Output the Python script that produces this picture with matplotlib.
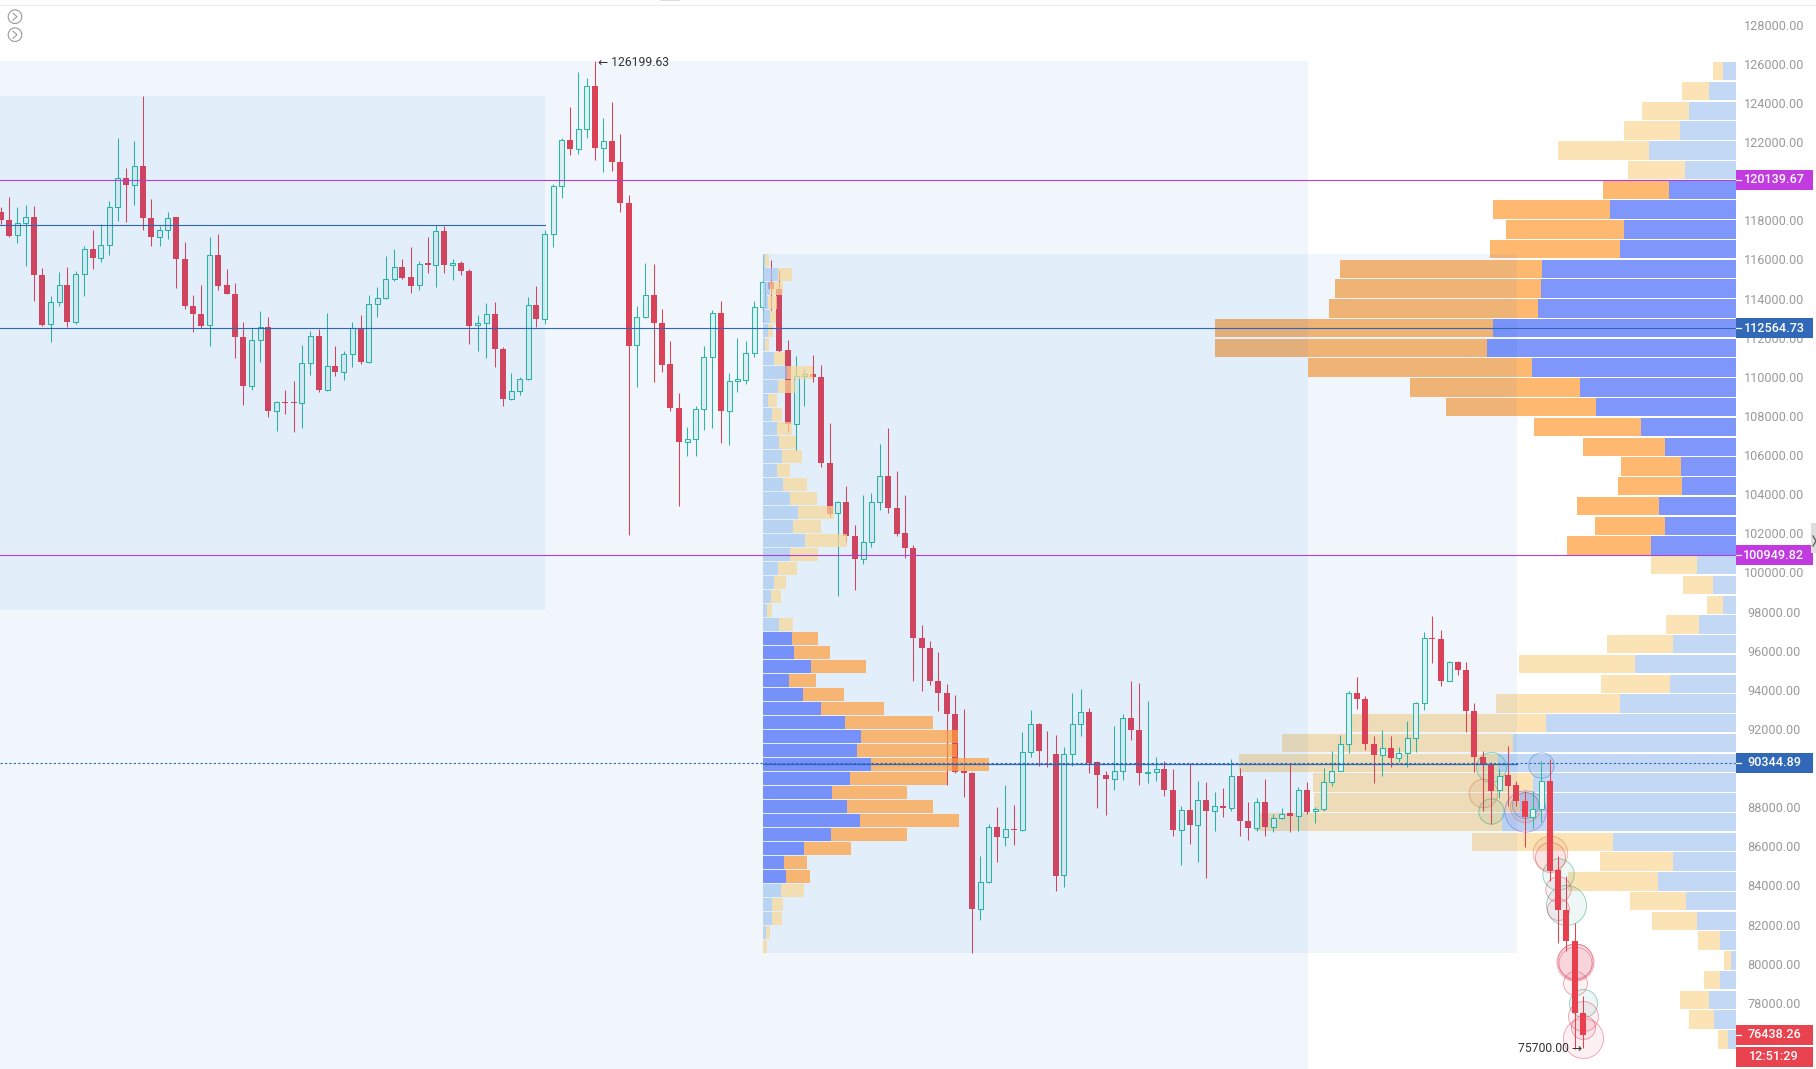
# -*- coding: utf-8 -*-
import numpy as np
import matplotlib
matplotlib.use("Agg")
import matplotlib.pyplot as plt
from matplotlib.patches import Rectangle, Circle

plt.rcParams['font.family'] = ['Roboto', 'DejaVu Sans']

# candles, oldest first
opens = [118483,118091,117324,117938,118261,115279,112774,113882,114785,112860,115331,116609,116148,116813,118772,120238,119880,120851,118193,117205,117580,118227,116097,113695,113286,112723,116302,114768,114308,112127,109588,111957,112621,108310,108787,108787,108736,110764,112161,109417,110627,110304,111241,112570,110815,113797,114087,115058,115705,115194,114768,115876,115791,117545,115808,115910,115501,112723,112808,113286,111496,108924,109332,109963,113746,113030,117375,119829,122180,121703,122726,124941,121754,122146,121056,118960,111701,113115,114257,112825,110730,108480,106725,106896,108429,111104,113337,108310,109844,109929,111275,113627,114922,114564,111446,107663,110117,110219,110083,105669,103114,103676,101938,100745,101614,103676,105005,103369,102091,101324,96723,96212,94525,93911,92838,89907,89839,82869,84233,87061,86533,86959,86908,90878,92327,91406,90776,84608,90776,92327,92957,90384,89720,89498,89924,92633,92020,89805,89856,90026,88953,86925,87930,87164,88442,87897,88135,88033,89669,87369,86994,88340,87045,87522,87778,87624,88953,87863,87965,89362,89925,91305,93912,93605,91288,90743,91100,90589,90845,91612,93401,96724,96672,94525,95480,95088,92975,90657,90282,88953,89720,89209,88391,87556,87965,89414,84864,82819,81234,77555]
highs = [118738,119250,118738,118875,118823,115637,114223,115416,115671,115467,116779,117580,117886,119045,122283,120749,122146,124447,119164,117801,118517,118261,116949,114274,114785,117239,117375,115586,114853,112860,112570,113422,113115,108855,109417,109844,111718,112434,112519,113320,111650,111411,112860,113252,114257,114649,116268,116609,116097,116694,115978,117239,117835,117801,116097,116012,115586,113235,113831,113882,111616,110253,110048,114172,114734,117597,119931,122283,123850,125640,125350,126199.63,123305,124140,122487,119369,113677,115910,115842,113541,111922,109230,107526,108583,111667,113490,113967,110253,112059,111888,113933,116353,116047,115535,111974,111156,110492,111207,110696,107731,103744,104511,102500,104050,104119,106641,107458,105277,104050,101494,97387,96587,95990,94371,93792,93093,89856,85579,87215,88101,89191,88203,91901,93042,92361,91952,91781,91134,93911,94116,93145,90452,89941,92241,92838,94542,94440,93519,90623,90418,90026,88118,90316,89430,89345,88834,89056,90538,90078,88357,88544,89516,87727,88033,90334,89090,89345,88067,90078,90930,91765,93997,94747,93776,91731,92021,91731,91169,92463,93469,97013,97865,97133,95565,95531,95480,93384,90930,90368,90027,91185,89430,88919,88919,90453,90538,85596,84574,82154,78414]
lows = [117886,117205,116898,115756,113933,112689,111871,113712,112604,112774,114223,115586,115961,116319,118023,117972,118875,117580,116779,116762,117120,114598,113541,112348,112553,111633,114512,114291,111020,108634,109400,110815,108037,107321,108174,107236,107441,110167,109281,109366,110133,109929,110560,110730,110764,113115,114035,114990,115075,114342,114530,115381,114683,115398,115041,115279,111752,111411,111020,110594,108583,108906,109145,109929,112604,112774,116694,119215,121414,121465,122266,121158,120528,120613,118483,101988,109537,113081,109827,110338,108310,103488,106044,106044,107373,107441,106674,106606,109281,109707,111104,112860,113423,111361,107271,106266,108600,109793,105482,102892,98887,101614,99194,100506,101392,103284,103130,101921,100796,94508,93997,94337,92974,89225,89822,88578,80603,82324,84182,85255,86073,86158,86874,90623,90162,90111,83806,84011,90162,91730,89839,88016,87692,88970,89481,91526,89225,89293,89430,88663,86584,85119,86192,85289,84438,86840,87590,87897,86585,86397,86874,86619,86789,87471,86789,86840,87727,87249,87863,89175,89908,90828,93094,91015,89294,89686,90112,90368,90146,90913,93060,95428,94253,94508,94849,91901,89856,87897,87215,88544,88118,88118,86056,87011,87301,84319,81115,80740,75700,75740]
closes = [118091,117290,117920,118227,115279,112740,113882,114768,112860,115331,116609,116131,116813,118738,120238,119863,120851,118176,117205,117580,118176,116080,113677,113269,112689,116302,114734,114291,112093,109588,111957,112604,108310,108770,108719,108719,110764,112161,109417,110610,110304,111241,112553,110815,113797,114087,115058,115671,115143,114734,115842,115791,117528,115791,115910,115467,112689,112825,113286,111480,108924,109332,109963,113746,113013,117375,119812,122180,121703,122726,124941,121754,122129,121039,118943,111667,113115,114257,112808,110696,108463,106725,106896,108429,111104,113337,108310,109844,109963,111275,113627,114904,114547,111412,107663,110100,110202,110048,105652,103062,103659,101921,100745,101614,103659,105005,103352,102057,101307,96706,96195,94508,93894,92821,89856,89805,82869,84233,87061,86533,86959,86891,90878,92327,90963,91406,84573,90776,92327,92923,90350,89703,89498,89924,92633,92003,89805,89856,90009,88936,86925,87930,87147,88441,87863,88118,88016,89669,87352,86994,88340,87045,87505,87743,87607,88953,87846,87982,89345,89908,91288,93912,93588,91288,90725,91083,90572,90828,91612,93384,96724,96655,94508,95480,95088,92975,90623,90248,88919,89686,89175,88374,87556,87965,89414,84830,82819,81217,77553,76438.26]

# volume profile of the whole range, top row first
right_buy = [38,80,141,168,261,153,201,378,336,348,582,586,594,729,747,612,468,420,285,213,165,162,231,213,255,116,68,40,111,189,303,198,348,570,668,714,608,648,701,368,190,234,150,117,48,16,48,80,66,24]
right_sell = [30,82,141,168,273,170,198,351,354,390,606,617,626,834,816,673,510,450,321,245,179,192,246,210,252,138,91,47,99,197,348,207,372,601,694,778,660,618,742,425,218,269,168,135,66,20,48,88,75,29]
right_hi = 126199.63
right_lo = 75700.0
right_vah = 120139.67
right_val = 100949.82

# volume profile of the second range, top row first
left_buy = [6,47,22,17,22,16,7,34,74,45,17,27,42,49,57,43,60,82,106,92,127,82,45,34,24,12,49,87,93,144,79,120,175,246,294,282,324,263,207,252,291,204,125,63,69,55,28,27,10,2]
left_sell = [14,42,40,25,18,14,13,33,78,52,25,30,45,51,62,40,72,80,108,82,125,85,57,36,32,15,41,78,108,165,80,123,188,264,293,300,354,291,225,258,297,228,139,69,73,69,32,30,12,10]
left_hi = 116370.0
left_lo = 80600.0
left_vah = 96900.0
left_val = 84200.0

# trade bubbles
bub_idx = [178,177,178,182,182,182,184,185,185,186,186,187,186,188,188,188,188,189,189,189,189]
bub_price = [90110,88800,87860,87860,88070,88180,90230,85735,85545,84660,83895,83090,82870,80175,80230,80090,79100,78080,77415,76850,76260]
bub_size = [15,14.3,12.7,20.7,15,13,12.7,17.3,15,15.7,12.7,20,11,18.5,17.5,16.5,12,14,15,12,20]
bub_kind = ['g','o','g','p','o','b','b','o','r','g','r','g','r','r','r','r','r','g','r','r','r']

# price levels
level_purple = [120139.67, 100949.82]
level_blue = 112564.73
level_last_poc = 90344.89
level_old_poc = 117837
poc_solid = 90290
old_box_hi = 124450
old_box_lo = 98170
last_price = 76438.26
countdown = "12:51:29"
tick_prices = [p for p in range(78000, 128001, 2000) if p != 120000]

W, H = 1816, 1069
bottom = 74692
top = 129340
step = 8.374
vp_right = 1736
vp_left = 762.7
x_big = 1308
x_old = 545
x_mid = 1517

fig = plt.figure(figsize=(W / 100, H / 100), dpi=100, facecolor='white')
ax = fig.add_axes([0, 0, 1, 1])
ax.set_xlim(0, W)
ax.set_ylim(bottom, top)
ax.axis('off')

opens = np.array(opens)
closes = np.array(closes)
highs = np.array(highs)
lows = np.array(lows)
x = np.arange(len(opens)) * step + 0.5
up = closes > opens
red = '#e8404f'
green = '#2dbba0'

# right profile goes under the candles
edges = np.linspace(right_hi, right_lo, len(right_buy) + 1)
mid = (edges[:-1] + edges[1:]) / 2
h = (edges[0] - edges[1]) * 0.93
rb = np.array(right_buy) / 3
rs = np.array(right_sell) / 3
inside = (mid < right_vah) & (mid > right_val)
ax.barh(mid, rb, height=h, left=vp_right - rb, color=np.where(inside, '#7f96fb', '#c2d8f5'), zorder=1)
ax.barh(mid, rs, height=h, left=vp_right - rb - rs, color=np.where(inside, '#ffb870', '#fbe3b5'), zorder=1)

# bubbles
kinds = {'g': '#1f9e80', 'o': '#e0703a', 'p': '#7a4fd0', 'b': '#3a78c8', 'r': '#e04060'}
for i in range(len(bub_idx)):
    c = kinds[bub_kind[i]]
    d = 2 * bub_size[i] * 0.72
    ax.scatter(x[bub_idx[i]], bub_price[i], s=d * d, facecolor=matplotlib.colors.to_rgba(c, 0.08),
               edgecolor=matplotlib.colors.to_rgba(c, 0.5), linewidth=0.6, zorder=1.5)

# candles
ax.vlines(x[up], lows[up], highs[up], color=green, linewidth=0.75, zorder=2)
ax.vlines(x[~up], lows[~up], highs[~up], color=red, linewidth=0.75, zorder=2)
ax.bar(x[up], closes[up] - opens[up], bottom=opens[up], width=5, facecolor='#eaf8f5', edgecolor=green,
       linewidth=0.75, zorder=2)
ax.bar(x[~up], opens[~up] - closes[~up], bottom=closes[~up], width=6, color=red, linewidth=0, zorder=2)

# range boxes lie over the candles
box_c = '#1070d8'
ax.add_patch(Rectangle((0, bottom), x_big, right_hi - bottom, facecolor=box_c, alpha=0.058, linewidth=0, zorder=3))
ax.add_patch(Rectangle((0, old_box_lo), x_old, old_box_hi - old_box_lo, facecolor=box_c, alpha=0.058, linewidth=0, zorder=3))
ax.add_patch(Rectangle((vp_left, left_lo), x_mid - vp_left, left_hi - left_lo, facecolor=box_c, alpha=0.058, linewidth=0, zorder=3))

# left profile lies over everything
edges = np.linspace(left_hi, left_lo, len(left_buy) + 1)
mid = (edges[:-1] + edges[1:]) / 2
h = (edges[0] - edges[1]) * 0.92
lb = np.array(left_buy) / 3
ls = np.array(left_sell) / 3
inside = (mid < left_vah) & (mid > left_val)
ax.barh(mid, lb, height=h, left=vp_left, color=np.where(inside, '#4d6df9', '#aac9f1'), alpha=0.72, linewidth=0, zorder=4)
ax.barh(mid, ls, height=h, left=vp_left + lb, color=np.where(inside, '#ff9f40', '#f9d898'), alpha=0.72, linewidth=0, zorder=4)

# levels
purple = '#b23fd8'
blue = '#2f66b5'
for p in level_purple:
    ax.plot([0, vp_right], [p, p], color=purple, linewidth=0.8, zorder=5)
ax.plot([0, vp_right], [level_blue, level_blue], color=blue, linewidth=0.8, zorder=5)
ax.plot([0, x_old], [level_old_poc, level_old_poc], color=blue, linewidth=0.8, zorder=5)
ax.plot([0, vp_right], [level_last_poc, level_last_poc], color=blue, linewidth=0.8, linestyle=(0, (2, 2)), zorder=5)
ax.plot([vp_left, x_mid], [poc_solid, poc_solid], color=blue, linewidth=0.9, zorder=5)

# high and low notes
ax.text(598, right_hi - 30, "← 126199.63", fontsize=8.7, color='#333333', va='center', ha='left', zorder=7)
ax.text(1582, right_lo + 60, "75700.00 →", fontsize=8.7, color='#333333', va='center', ha='right', zorder=7)

# price scale
for p in tick_prices:
    ax.text(1774, p, f"{p:.2f}", fontsize=9.1, color='#9a9a9a', ha='center', va='center', zorder=6)


def price_tag(p, label, color, dy=0, tick=True):
    hh = 511
    ax.add_patch(Rectangle((vp_right, p - hh + dy), 77, hh * 2, facecolor=color, linewidth=0, zorder=8))
    if tick:
        ax.plot([vp_right, vp_right + 5], [p, p], color='white', linewidth=0.9, zorder=9)
    ax.text(1774, p + dy, label, fontsize=9.1, color='white', fontweight='medium', ha='center', va='center', zorder=9)


price_tag(level_purple[0], "120139.67", '#c23be0')
price_tag(level_purple[1], "100949.82", '#c23be0')
price_tag(level_blue, "112564.73", '#3168b8')
price_tag(level_last_poc, "90344.89", '#3168b8')
price_tag(last_price, "76438.26", '#e8434f')
price_tag(last_price, countdown, '#e8434f', dy=-1110, tick=False)

# page furniture in pixel coordinates
ov = fig.add_axes([0, 0, 1, 1])
ov.set_xlim(0, W)
ov.set_ylim(H, 0)
ov.axis('off')
ov.patch.set_alpha(0)
ov.plot([0, W], [5, 5], color='#eeeeee', linewidth=0.9)
ov.add_patch(Rectangle((660, 0), 20, 1.2, facecolor='#dddddd', linewidth=0))
for cy in [16.7, 34.7]:
    ov.add_patch(Circle((15, cy), 6.8, facecolor='none', edgecolor='#999999', linewidth=0.8))
    ov.plot([13, 17, 13], [cy - 3.5, cy, cy + 3.5], color='#999999', linewidth=0.8)
ov.add_patch(Rectangle((1811, 523), 5, 30, facecolor='#dedede', linewidth=0))
ov.plot([1813, 1816, 1813], [536, 541, 546], color='#555555', linewidth=0.9)

fig.savefig('out.png', dpi=100, facecolor='white')
